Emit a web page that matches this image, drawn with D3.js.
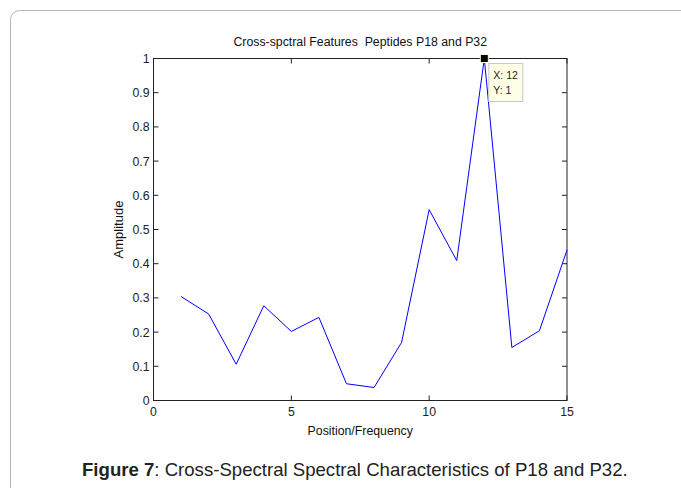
<!DOCTYPE html>
<html><head><meta charset="utf-8">
<script src="https://cdn.jsdelivr.net/npm/d3@7"></script>
<style>
html,body{margin:0;padding:0;background:#fff;}
svg{display:block;}
text{white-space:pre;}
</style></head>
<body>
<svg id="c" width="681" height="488"></svg>
<script>
const positions = [1,2,3,4,5,6,7,8,9,10,11,12,13,14,15];
const amplitude = [0.304,0.253,0.106,0.277,0.202,0.243,0.049,0.038,0.170,0.558,0.409,1.0,0.155,0.204,0.440];
const xTicks = [0,5,10,15];
const yTicks = [0,0.1,0.2,0.3,0.4,0.5,0.6,0.7,0.8,0.9,1];
const titleText = "Cross-spctral Features  Peptides P18 and P32";
const xLabel = "Position/Frequency";
const yLabel = "Amplitude";
const tipPoint = {x:12, y:1};

const svg = d3.select("#c");
// card border
svg.append("rect").attr("x",10.5).attr("y",10.5).attr("width",700).attr("height",520)
  .attr("rx",9).attr("fill","#fff").attr("stroke","#b5b5b5").attr("stroke-width",1);

const L=153.5, R=567, T=58.5, B=400.5;
const x = d3.scaleLinear().domain([0,15]).range([L,R]);
const y = d3.scaleLinear().domain([0,1]).range([B,T]);
const font = "'Liberation Sans', Arial, sans-serif";
const fs = 12.3;
const tk = 5;

const g = svg.append("g");
// frame
g.append("rect").attr("x",L).attr("y",T).attr("width",R-L).attr("height",B-T)
  .attr("fill","none").attr("stroke","#222").attr("stroke-width",1);

// ticks
xTicks.forEach(v=>{
  g.append("line").attr("x1",x(v)).attr("x2",x(v)).attr("y1",B).attr("y2",B-tk).attr("stroke","#222");
  g.append("line").attr("x1",x(v)).attr("x2",x(v)).attr("y1",T).attr("y2",T+tk).attr("stroke","#222");
  g.append("text").attr("x",x(v)).attr("y",B+15).attr("text-anchor","middle")
    .attr("font-family",font).attr("font-size",fs).attr("fill","#222").text(d3.format("d")(v));
});
yTicks.forEach(v=>{
  g.append("line").attr("x1",L).attr("x2",L+tk).attr("y1",y(v)).attr("y2",y(v)).attr("stroke","#222");
  g.append("line").attr("x1",R).attr("x2",R-tk).attr("y1",y(v)).attr("y2",y(v)).attr("stroke","#222");
  g.append("text").attr("x",L-4).attr("y",y(v)+4.5).attr("text-anchor","end")
    .attr("font-family",font).attr("font-size",fs).attr("fill","#222").text(v===0?"0":(v===1?"1":d3.format(".1f")(v)));
});

// line
const line = d3.line().x((d,i)=>x(positions[i])).y(d=>y(d));
g.append("path").datum(amplitude).attr("d",line).attr("fill","none")
  .attr("stroke","#0000ff").attr("stroke-width",1);

// title and labels
g.append("text").attr("x",(L+R)/2).attr("y",46).attr("text-anchor","middle")
  .attr("font-family",font).attr("font-size",fs).attr("fill","#111").text(titleText);
g.append("text").attr("x",(L+R)/2).attr("y",435).attr("text-anchor","middle")
  .attr("font-family",font).attr("font-size",fs).attr("fill","#111").text(xLabel);
g.append("text").attr("transform",`translate(123,${(T+B)/2}) rotate(-90)`).attr("text-anchor","middle")
  .attr("font-family",font).attr("font-size",13).attr("fill","#111").text(yLabel);

// datatip
const px = x(tipPoint.x), py = y(tipPoint.y);
g.append("rect").attr("x",px+4.5).attr("y",py+5).attr("width",34).attr("height",38)
  .attr("fill","#ffffe6").attr("stroke","#c8c8c8");
g.append("text").attr("x",px+9).attr("y",py+20).attr("font-family",font).attr("font-size",10.5).attr("fill","#222").text("X: "+tipPoint.x);
g.append("text").attr("x",px+9).attr("y",py+35).attr("font-family",font).attr("font-size",10.5).attr("fill","#222").text("Y: "+tipPoint.y);
g.append("rect").attr("x",px-4).attr("y",py-4).attr("width",8).attr("height",8)
  .attr("fill","#000").attr("stroke","#ffffe0").attr("stroke-width",1);

// caption
const cap = svg.append("text").attr("x",82).attr("y",476).attr("font-family",font)
  .attr("font-size",18.6).attr("fill","#222");
cap.append("tspan").attr("font-weight","bold").text("Figure 7");
cap.append("tspan").text(": Cross-Spectral Spectral Characteristics of P18 and P32.");
</script>
</body></html>
